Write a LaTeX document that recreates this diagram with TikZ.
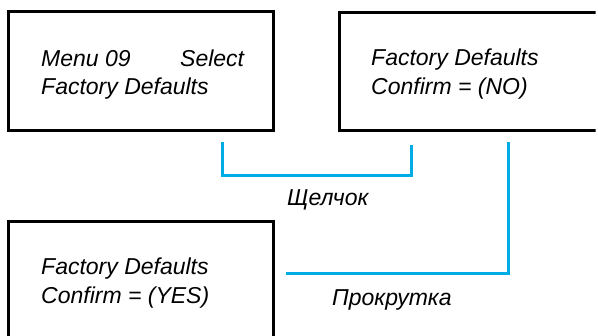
\documentclass[tikz,border=0pt]{standalone}
\usepackage{fontspec}
\setmainfont{Liberation Sans}
\definecolor{linkblue}{RGB}{0,172,230}
\begin{document}
\begin{tikzpicture}[x=1pt,y=-1pt,
  screen/.style={draw=black,line width=3pt,inner sep=0pt,fill=none},
  txt/.style={anchor=base west,inner sep=0pt,font=\fontsize{23}{30}\selectfont\itshape},
  link/.style={draw=linkblue,line width=3pt}]
\useasboundingbox (0,0) rectangle (598,336);
\begin{scope}
\clip (0,0) rectangle (595.5,336);
\node[screen,minimum width=264.7pt,minimum height=118.8pt] (box1) at (141.05,71.4) {};
\node[screen,minimum width=280.3pt,minimum height=117.8pt] (box2) at (479.85,71.9) {};
\node[screen,minimum width=264.8pt,minimum height=138.5pt] (box3) at (141.1,290.75) {};
\end{scope}
\node[txt] (m1) at (41,66.5) {Menu 09};
\node[txt] (m2) at (180,66.5) {Select};
\node[txt] (m3) at (41,95) {Factory Defaults};
\node[txt] (n1) at (371,66) {Factory Defaults};
\node[txt] (n2) at (371,94.5) {Confirm = (NO)};
\node[txt] (y1) at (41,275) {Factory Defaults};
\node[txt] (y2) at (41,304) {Confirm = (YES)};
\node[txt] (click) at (287,206) {Щелчок};
\node[txt] (scroll) at (332,306) {Прокрутка};
\coordinate (a1) at (222.5,142);
\coordinate (a2) at (411,145);
\coordinate (b1) at (508.5,142);
\coordinate (b2) at (286,274);
\draw[link] (a1) |- (411,175.5) -- (a2);
\draw[link] (b1) |- (b2);
\end{tikzpicture}
\end{document}
